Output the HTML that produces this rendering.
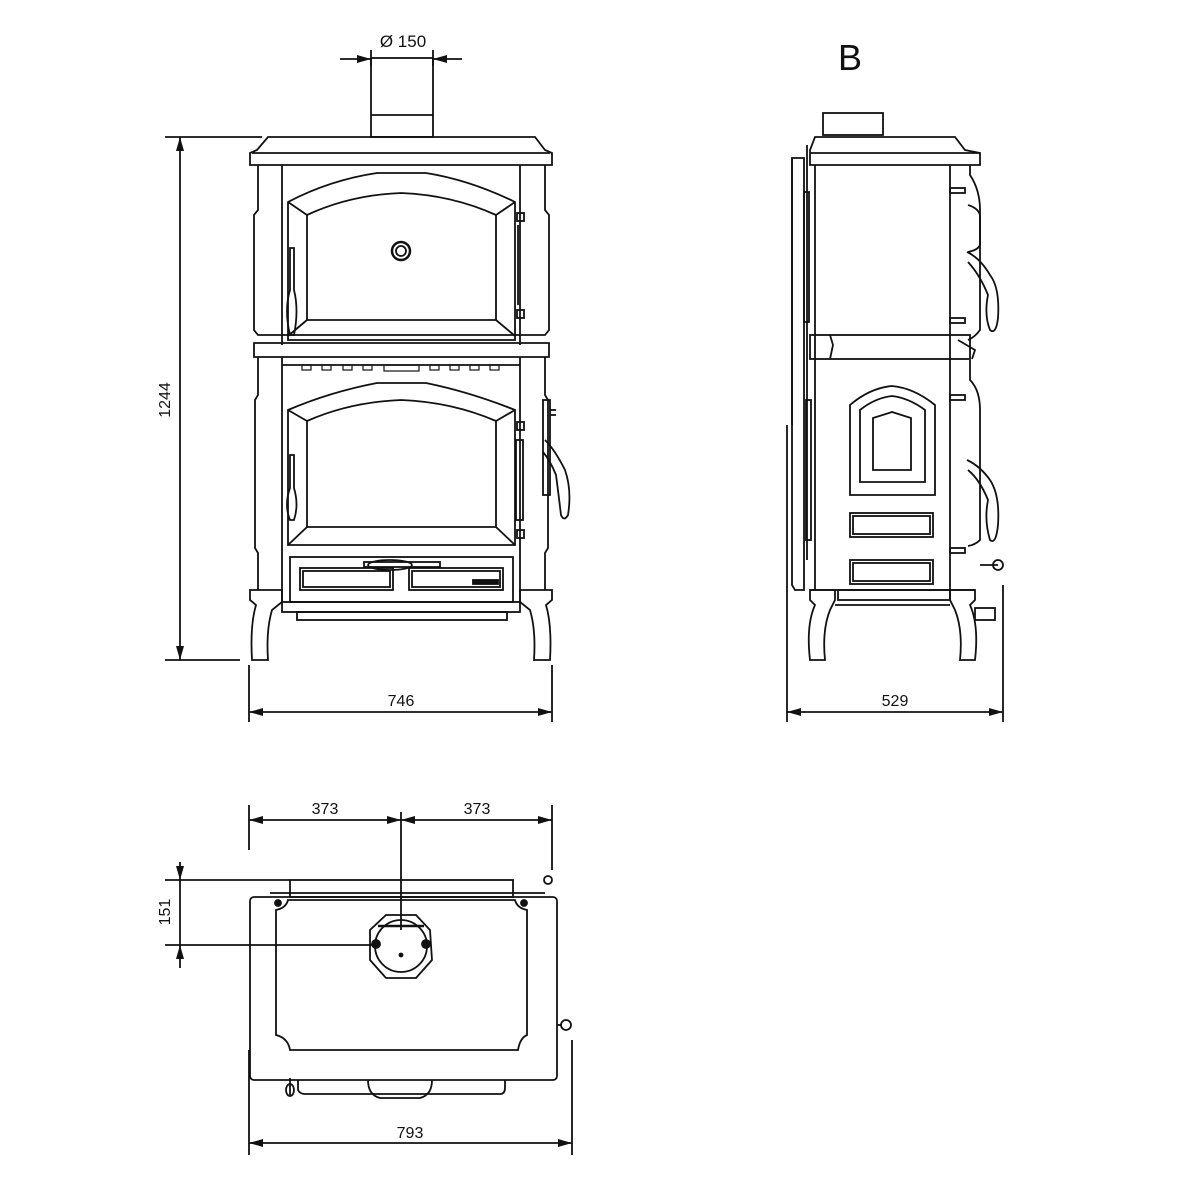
<!DOCTYPE html>
<html><head><meta charset="utf-8"><style>
html,body{margin:0;padding:0;background:#fff;}
svg{display:block;}
text{font-family:"Liberation Sans",sans-serif;fill:#111;}
</style></head><body>
<svg width="1200" height="1200" viewBox="0 0 1200 1200" xmlns="http://www.w3.org/2000/svg">
<defs>
<marker id="a" viewBox="0 0 10 10" refX="10" refY="5" markerWidth="14" markerHeight="8" preserveAspectRatio="none" orient="auto-start-reverse" markerUnits="userSpaceOnUse"><path d="M0,0 L10,5 L0,10 z" fill="#111"/></marker>
</defs>
<g fill="none" stroke="#111" stroke-width="1.8">
<!-- ===== FRONT VIEW ===== -->
<rect x="371" y="58" width="62" height="79"/>
<line x1="371" y1="115" x2="433" y2="115"/>
<line x1="371" y1="50" x2="371" y2="66"/><line x1="433" y1="50" x2="433" y2="66"/>
<line x1="340" y1="59" x2="371" y2="59" marker-end="url(#a)"/>
<line x1="462" y1="59" x2="433" y2="59" marker-end="url(#a)"/>
<path d="M268,137 L535,137 L545,150 L552,153 L552,165 L250,165 L250,153 L257,150 Z"/>
<line x1="252" y1="153" x2="550" y2="153"/>
<path d="M258,165 L258,210 L254,215 L254,330 L258,335 L545,335 L549,330 L549,215 L545,210 L545,165"/>
<line x1="282" y1="165" x2="282" y2="345"/><line x1="520" y1="165" x2="520" y2="345"/>
<path d="M288,202 Q330,180 377,173 L426,173 Q470,180 515,202 L515,340 L288,340 Z"/>
<path d="M307,215 Q350,195 401,193 Q452,195 496,215 L496,320 L307,320 Z"/>
<line x1="288" y1="202" x2="307" y2="215"/><line x1="515" y1="202" x2="496" y2="215"/>
<line x1="288" y1="336" x2="307" y2="320"/><line x1="515" y1="336" x2="496" y2="320"/>
<circle cx="401" cy="251" r="9" stroke-width="2.5"/>
<circle cx="401" cy="251" r="5"/>
<path d="M290,248 L294,248 L294,290 Q299,310 294,335 L290,335 Q284,310 290,290 Z"/>
<rect x="517" y="213" width="7" height="8"/><rect x="517" y="310" width="7" height="8"/>
<line x1="518" y1="225" x2="518" y2="305"/>
<path d="M254,343 L549,343 L549,357 L254,357 Z"/>
<line x1="282" y1="357" x2="282" y2="365"/><line x1="520" y1="357" x2="520" y2="365"/>
<line x1="282" y1="365" x2="520" y2="365"/>
<g stroke-width="1.2">
<rect x="302" y="365" width="9" height="5"/><rect x="322" y="365" width="9" height="5"/><rect x="343" y="365" width="9" height="5"/><rect x="363" y="365" width="9" height="5"/>
<rect x="384" y="365" width="35" height="6"/>
<rect x="430" y="365" width="9" height="5"/><rect x="450" y="365" width="9" height="5"/><rect x="470" y="365" width="9" height="5"/><rect x="490" y="365" width="9" height="5"/>
</g>
<path d="M258,357 L258,395 L255,400 L255,548 L258,553 L258,590"/>
<path d="M545,357 L545,395 L548,400 L548,548 L545,553 L545,590"/>
<line x1="282" y1="365" x2="282" y2="602"/><line x1="520" y1="365" x2="520" y2="602"/>
<path d="M288,410 Q330,392 377,383 L426,383 Q470,392 515,410 L515,545 L288,545 Z"/>
<path d="M307,421 Q350,402 401,400 Q452,402 496,421 L496,527 L307,527 Z"/>
<line x1="288" y1="410" x2="307" y2="421"/><line x1="515" y1="410" x2="496" y2="421"/>
<line x1="288" y1="545" x2="307" y2="527"/><line x1="515" y1="545" x2="496" y2="527"/>
<path d="M290,455 L294,455 L294,488 Q299,505 294,520 L290,520 Q284,505 290,488 Z"/>
<rect x="516" y="440" width="7" height="80"/>
<rect x="517" y="422" width="7" height="8"/><rect x="517" y="530" width="7" height="8"/>
<rect x="543" y="400" width="7" height="95"/>
<line x1="550" y1="410" x2="556" y2="410"/><line x1="550" y1="415" x2="556" y2="415"/>
<path d="M545,440 Q555,450 565,470 Q572,490 568,515 Q564,522 561,515 Q558,490 556,475 Q550,460 543,452"/>
<rect x="290" y="557" width="223" height="45"/>
<rect x="300" y="568" width="93" height="22"/><rect x="303" y="571" width="87" height="16"/>
<rect x="409" y="568" width="94" height="22"/><rect x="412" y="571" width="88" height="16"/>
<rect x="364" y="562" width="76" height="5"/>
<ellipse cx="390" cy="565" rx="22" ry="5"/>
<rect x="473" y="580" width="25" height="4" fill="#111"/>
<rect x="282" y="602" width="238" height="10"/>
<rect x="297" y="612" width="210" height="8"/>
<path d="M250,590 L282,590 L282,602 L272,610 Q266,630 268,660 L252,660 Q250,625 256,605 L250,600 Z"/>
<path d="M552,590 L520,590 L520,602 L530,610 Q536,630 534,660 L550,660 Q552,625 546,605 L552,600 Z"/>
<line x1="165" y1="137" x2="262" y2="137"/>
<line x1="165" y1="660" x2="240" y2="660"/>
<line x1="180" y1="137" x2="180" y2="660" marker-start="url(#a)" marker-end="url(#a)"/>
<line x1="249" y1="665" x2="249" y2="722"/><line x1="552" y1="665" x2="552" y2="722"/>
<line x1="249" y1="712" x2="552" y2="712" marker-start="url(#a)" marker-end="url(#a)"/>

<!-- ===== SIDE VIEW ===== -->
<rect x="823" y="113" width="60" height="22"/>
<path d="M815,137 L955,137 L965,150 L980,153 L980,165 L810,165 L810,150 Z"/>
<line x1="810" y1="153" x2="980" y2="153"/>
<path d="M792,158 L804,158 L804,590 L795,590 L792,585 Z"/>
<line x1="792" y1="158" x2="792" y2="425"/>
<line x1="807" y1="145" x2="807" y2="560"/>
<rect x="804" y="192" width="5" height="130"/>
<rect x="806" y="400" width="5" height="140"/>
<line x1="815" y1="165" x2="815" y2="590"/>
<line x1="950" y1="165" x2="950" y2="590"/>
<rect x="950" y="188" width="15" height="5"/><rect x="950" y="318" width="15" height="5"/>
<path d="M970,165 L970,175 Q980,190 980,210 L980,330 Q975,337 968,340"/>
<path d="M968,205 Q978,208 980,215 L980,245 Q978,250 968,252"/>
<path d="M967,252 Q980,258 990,275 Q1000,288 998,318 Q996,335 990,330 Q984,315 988,295 Q980,275 968,262"/>
<rect x="810" y="335" width="160" height="24"/>
<path d="M830,335 L833,345 L830,359"/>
<path d="M958,340 L975,350 L972,359"/>
<rect x="950" y="395" width="15" height="5"/><rect x="950" y="548" width="15" height="5"/>
<path d="M970,360 L970,380 Q980,390 980,410 L980,540 Q975,545 968,546"/>
<path d="M967,460 Q980,466 990,480 Q1000,495 998,525 Q996,545 990,540 Q984,520 988,500 Q980,480 968,470"/>
<line x1="980" y1="565" x2="998" y2="565"/><circle cx="998" cy="565" r="5"/>
<path d="M850,405 Q870,388 892,386 Q914,388 935,405 L935,495 L850,495 Z"/>
<path d="M860,410 Q875,398 892,396 Q909,398 925,410 L925,482 L860,482 Z"/>
<path d="M873,418 L892,412 L911,418 L911,470 L873,470 Z"/>
<rect x="850" y="513" width="83" height="24"/><rect x="853" y="516" width="77" height="18"/>
<rect x="850" y="560" width="83" height="24"/><rect x="853" y="563" width="77" height="18"/>
<line x1="810" y1="590" x2="975" y2="590"/>
<rect x="838" y="590" width="112" height="10"/>
<line x1="835" y1="605" x2="950" y2="605"/>
<rect x="975" y="608" width="20" height="12"/>
<path d="M810,590 L835,590 L835,600 L830,610 Q822,630 825,660 L810,660 Q806,625 815,605 L810,600 Z"/>
<path d="M975,590 L950,590 L950,600 L955,610 Q963,630 960,660 L975,660 Q979,625 970,605 L975,600 Z"/>
<line x1="787" y1="425" x2="787" y2="722"/><line x1="1003" y1="585" x2="1003" y2="722"/>
<line x1="787" y1="712" x2="1003" y2="712" marker-start="url(#a)" marker-end="url(#a)"/>

<!-- ===== TOP VIEW ===== -->
<line x1="249" y1="805" x2="249" y2="850"/><line x1="552" y1="805" x2="552" y2="870"/>
<line x1="401" y1="812" x2="401" y2="930"/>
<line x1="249" y1="820" x2="401" y2="820" marker-start="url(#a)" marker-end="url(#a)"/>
<line x1="401" y1="820" x2="552" y2="820" marker-start="url(#a)" marker-end="url(#a)"/>
<rect x="250" y="897" width="307" height="183" rx="4"/>
<rect x="290" y="880" width="223" height="17"/>
<line x1="270" y1="893" x2="545" y2="893"/>
<path d="M276,910 Q286,908 288,900 L515,900 Q517,908 527,910 L527,1035 Q520,1038 518,1050 L290,1050 Q288,1038 276,1035 Z"/>
<circle cx="278" cy="903" r="3" fill="#111"/><circle cx="524" cy="903" r="3" fill="#111"/>
<path d="M386,915 L416,915 L430,930 L432,960 L416,978 L386,978 L370,960 L370,930 Z"/>
<circle cx="401" cy="946" r="26"/>
<line x1="378" y1="926" x2="424" y2="926" stroke-width="2.5"/>
<circle cx="376" cy="944" r="4" fill="#111"/><circle cx="426" cy="944" r="4" fill="#111"/>
<circle cx="401" cy="955" r="1.5" fill="#111"/>
<path d="M298,1080 L298,1090 Q300,1094 305,1094 L500,1094 Q505,1094 505,1088 L505,1080"/>
<path d="M368,1080 Q368,1095 380,1098 L420,1098 Q432,1095 432,1080"/>
<path d="M290,1078 L290,1095"/><ellipse cx="290" cy="1090" rx="4" ry="6"/>
<circle cx="548" cy="880" r="4"/>
<line x1="557" y1="1025" x2="562" y2="1025"/><circle cx="566" cy="1025" r="5"/>
<line x1="165" y1="880" x2="290" y2="880"/>
<line x1="165" y1="945" x2="372" y2="945"/>
<line x1="180" y1="862" x2="180" y2="880" marker-end="url(#a)"/>
<line x1="180" y1="968" x2="180" y2="945" marker-end="url(#a)"/>
<line x1="180" y1="880" x2="180" y2="945"/>
<line x1="249" y1="1050" x2="249" y2="1155"/><line x1="572" y1="1040" x2="572" y2="1155"/>
<line x1="249" y1="1143" x2="572" y2="1143" marker-start="url(#a)" marker-end="url(#a)"/>
</g>
<text x="403" y="47" font-size="17" text-anchor="middle">Ø 150</text>
<text x="170" y="400" font-size="16" text-anchor="middle" transform="rotate(-90 170 400)">1244</text>
<text x="401" y="706" font-size="16" text-anchor="middle">746</text>
<text x="895" y="706" font-size="16" text-anchor="middle">529</text>
<text x="850" y="70" font-size="36" text-anchor="middle">B</text>
<text x="325" y="814" font-size="16" text-anchor="middle">373</text>
<text x="477" y="814" font-size="16" text-anchor="middle">373</text>
<text x="170" y="912" font-size="16" text-anchor="middle" transform="rotate(-90 170 912)">151</text>
<text x="410" y="1138" font-size="16" text-anchor="middle">793</text>
</svg>
</body></html>
